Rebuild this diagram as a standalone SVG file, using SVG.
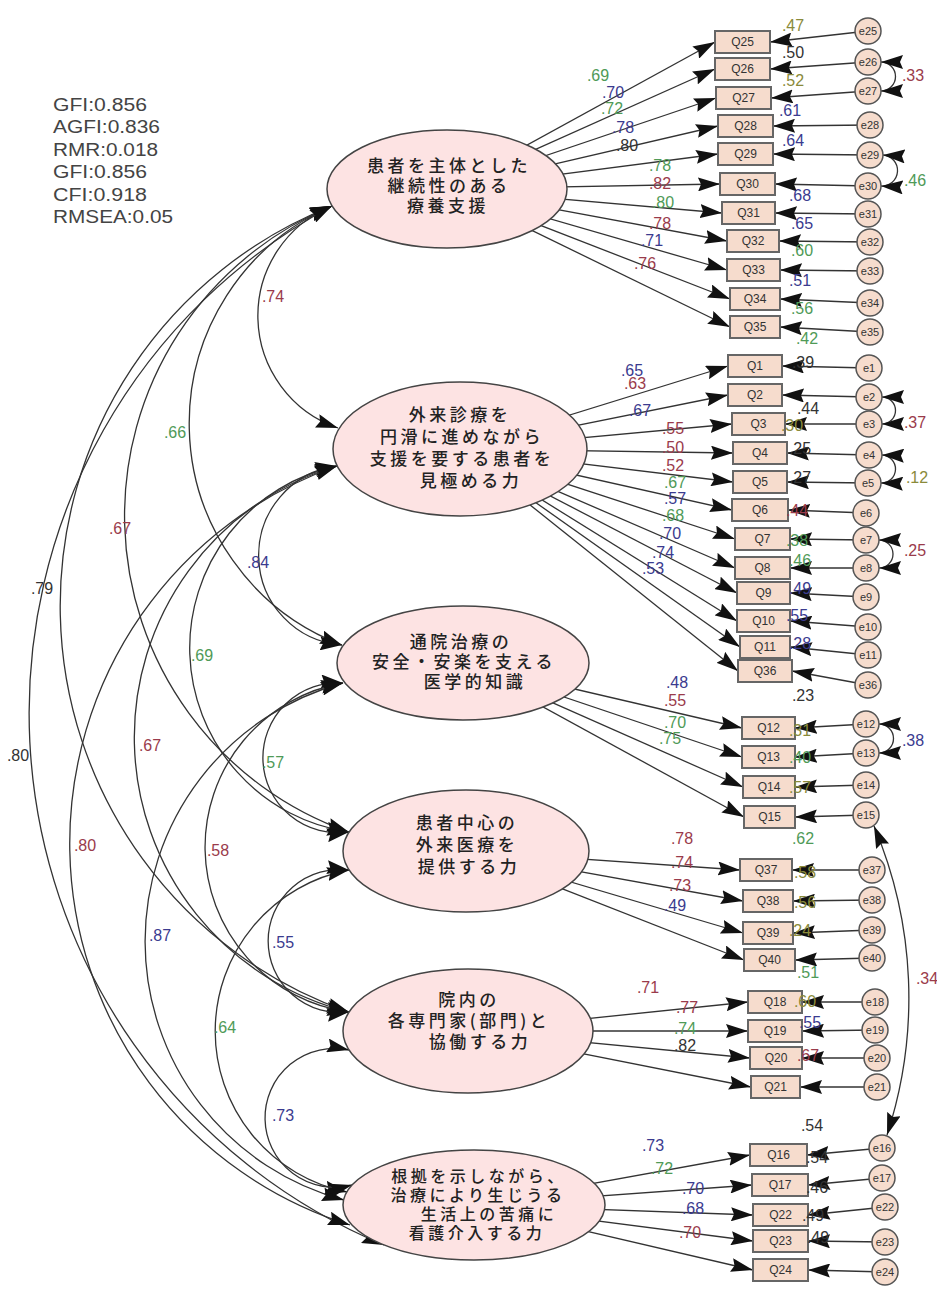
<svg xmlns="http://www.w3.org/2000/svg" width="937" height="1291" viewBox="0 0 937 1291">
<defs>
<marker id="ar" markerUnits="userSpaceOnUse" markerWidth="24" markerHeight="14" refX="22" refY="7" orient="auto"><path d="M0,0 L22,7 L0,14 L3,7 z" fill="#111"/></marker>
<marker id="ar2" markerUnits="userSpaceOnUse" markerWidth="24" markerHeight="14" refX="22" refY="7" orient="auto-start-reverse"><path d="M0,0 L22,7 L0,14 L3,7 z" fill="#111"/></marker>
</defs>
<style>
.ln{stroke:#333;stroke-width:1.3;fill:none}
.box{fill:#f6dccd;stroke:#666;stroke-width:2}
.lat{fill:#fde3e3;stroke:#444;stroke-width:1.5}
.err{fill:#f6dccd;stroke:#555;stroke-width:1.5}
.jp{font-family:"Noto Sans CJK JP",sans-serif;font-size:17px;letter-spacing:3.5px;font-weight:500;fill:#222;text-anchor:middle}
.jp6{font-size:16px;letter-spacing:3.5px}
.q{font-family:"Liberation Sans",sans-serif;font-size:12px;fill:#333;text-anchor:middle}
.et{font-family:"Liberation Sans",sans-serif;font-size:11px;fill:#333;text-anchor:middle}
.v{font-family:"Liberation Sans",sans-serif;font-size:16px;text-anchor:middle}
.fit{font-family:"Liberation Sans",sans-serif;font-size:18px;fill:#444}
.g{fill:#4f9a57}.b{fill:#3b3b8f}.r{fill:#9a3b4b}.k{fill:#333}.o{fill:#8a8a3a}
</style>
<rect width="937" height="1291" fill="#fff"/>

<g id="connectors" class="ln">
<g id="loadings" marker-end="url(#ar)">
<line x1="447" y1="189" x2="715" y2="42"/>
<line x1="447" y1="189" x2="715" y2="69"/>
<line x1="447" y1="189" x2="716" y2="98"/>
<line x1="447" y1="189" x2="718" y2="126"/>
<line x1="447" y1="189" x2="718" y2="154"/>
<line x1="447" y1="189" x2="720" y2="184"/>
<line x1="447" y1="189" x2="722" y2="213"/>
<line x1="447" y1="189" x2="727" y2="241"/>
<line x1="447" y1="189" x2="727" y2="270"/>
<line x1="447" y1="189" x2="730" y2="299"/>
<line x1="447" y1="189" x2="730" y2="327"/>
<line x1="460" y1="449" x2="728" y2="366"/>
<line x1="460" y1="449" x2="728" y2="395"/>
<line x1="460" y1="449" x2="732" y2="424"/>
<line x1="460" y1="449" x2="733" y2="453"/>
<line x1="460" y1="449" x2="733" y2="482"/>
<line x1="460" y1="449" x2="732" y2="510"/>
<line x1="460" y1="449" x2="735" y2="539"/>
<line x1="460" y1="449" x2="735" y2="568"/>
<line x1="460" y1="449" x2="737" y2="593"/>
<line x1="460" y1="449" x2="737" y2="621"/>
<line x1="460" y1="449" x2="740" y2="647"/>
<line x1="460" y1="449" x2="738" y2="671"/>
<line x1="463" y1="663" x2="742" y2="728"/>
<line x1="463" y1="663" x2="742" y2="757"/>
<line x1="463" y1="663" x2="743" y2="787"/>
<line x1="463" y1="663" x2="744" y2="817"/>
<line x1="466" y1="851" x2="740" y2="870"/>
<line x1="466" y1="851" x2="743" y2="901"/>
<line x1="466" y1="851" x2="743" y2="933"/>
<line x1="466" y1="851" x2="744" y2="960"/>
<line x1="468" y1="1031" x2="748" y2="1002"/>
<line x1="468" y1="1031" x2="748" y2="1031"/>
<line x1="468" y1="1031" x2="750" y2="1058"/>
<line x1="468" y1="1031" x2="751" y2="1087"/>
<line x1="474" y1="1205" x2="750" y2="1155"/>
<line x1="474" y1="1205" x2="752" y2="1185"/>
<line x1="474" y1="1205" x2="753" y2="1215"/>
<line x1="474" y1="1205" x2="753" y2="1241"/>
<line x1="474" y1="1205" x2="753" y2="1270"/>
</g>
<g id="error-paths" marker-end="url(#ar)">
<line x1="868" y1="31" x2="770" y2="42"/>
<line x1="868" y1="62" x2="770" y2="69"/>
<line x1="868" y1="91" x2="771" y2="98"/>
<line x1="870" y1="125" x2="773" y2="126"/>
<line x1="870" y1="155" x2="773" y2="154"/>
<line x1="868" y1="186" x2="775" y2="184"/>
<line x1="868" y1="214" x2="775" y2="213"/>
<line x1="870" y1="242" x2="779" y2="241"/>
<line x1="870" y1="271" x2="780" y2="270"/>
<line x1="870" y1="303" x2="780" y2="299"/>
<line x1="870" y1="332" x2="780" y2="327"/>
<line x1="869" y1="368" x2="782" y2="366"/>
<line x1="869" y1="397" x2="782" y2="395"/>
<line x1="869" y1="424" x2="785" y2="424"/>
<line x1="869" y1="455" x2="787" y2="453"/>
<line x1="868" y1="483" x2="787" y2="482"/>
<line x1="866" y1="513" x2="788" y2="510"/>
<line x1="866" y1="540" x2="790" y2="539"/>
<line x1="866" y1="568" x2="790" y2="568"/>
<line x1="866" y1="597" x2="790" y2="593"/>
<line x1="868" y1="627" x2="790" y2="621"/>
<line x1="868" y1="655" x2="790" y2="647"/>
<line x1="868" y1="685" x2="792" y2="671"/>
<line x1="866" y1="724" x2="795" y2="728"/>
<line x1="866" y1="753" x2="795" y2="757"/>
<line x1="866" y1="785" x2="795" y2="787"/>
<line x1="866" y1="815" x2="795" y2="817"/>
<line x1="872" y1="870" x2="792" y2="870"/>
<line x1="872" y1="900" x2="793" y2="901"/>
<line x1="872" y1="930" x2="793" y2="933"/>
<line x1="872" y1="958" x2="795" y2="960"/>
<line x1="875" y1="1002" x2="802" y2="1002"/>
<line x1="875" y1="1030" x2="802" y2="1031"/>
<line x1="877" y1="1058" x2="802" y2="1058"/>
<line x1="877" y1="1087" x2="800" y2="1087"/>
<line x1="882" y1="1148" x2="807" y2="1155"/>
<line x1="882" y1="1178" x2="808" y2="1185"/>
<line x1="885" y1="1207" x2="808" y2="1215"/>
<line x1="885" y1="1242" x2="808" y2="1241"/>
<line x1="885" y1="1272" x2="808" y2="1270"/>
</g>
<g id="covariances" marker-start="url(#ar2)" marker-end="url(#ar2)">
<path d="M332,206 A118.5,118.5 0 0 0 338,428"/>
<path d="M332,206 A237,237 0 0 0 342,645"/>
<path d="M332,206 A335,335 0 0 0 349,832"/>
<path d="M332,206 A430,430 0 0 0 349,1012"/>
<path d="M332,206 A576,576 0 0 0 384,1245"/>
<path d="M337,466 A90,90 0 0 0 342,645"/>
<path d="M337,466 A186,186 0 0 0 349,832"/>
<path d="M337,466 A283,283 0 0 0 349,1012"/>
<path d="M337,466 A400,400 0 0 0 350,1225"/>
<path d="M343,683 A75,75 0 1 0 349,832"/>
<path d="M343,683 A166.5,166.5 0 0 0 349,1012"/>
<path d="M343,683 A267.6,267.6 0 0 0 344,1200"/>
<path d="M349,870 A71.6,71.6 0 1 0 349,1012"/>
<path d="M349,870 A164,164 0 0 0 347,1192"/>
<path d="M349,1050 A69.4,69.4 0 1 0 352,1185"/>
<path d="M881,62 A1,1 0 0 1 881,91"/>
<path d="M883,155 A1,1 0 0 1 881,186"/>
<path d="M882,397 A1,1 0 0 1 882,424"/>
<path d="M882,455 A1,1 0 0 1 881,483"/>
<path d="M879,540 A1,1 0 0 1 879,568"/>
<path d="M879,724 A1,1 0 0 1 879,753"/>
<path d="M874,826 A441,441 0 0 1 887,1135"/>
</g>
</g>

<g id="latents">
<g id="F1"><ellipse class="lat" cx="447" cy="189" rx="120" ry="59"/><text class="jp" x="449" y="172">患者を主体とした</text><text class="jp" x="449" y="192">継続性のある</text><text class="jp" x="448" y="212">療養支援</text></g>
<g id="F2"><ellipse class="lat" cx="460" cy="449" rx="127" ry="67"/><text class="jp" x="460" y="421">外来診療を</text><text class="jp" x="462" y="443">円滑に進めながら</text><text class="jp" x="462" y="465">支援を要する患者を</text><text class="jp" x="471" y="487">見極める力</text></g>
<g id="F3"><ellipse class="lat" cx="463" cy="663" rx="126" ry="57"/><text class="jp" x="461" y="648">通院治療の</text><text class="jp" x="464" y="668">安全・安楽を支える</text><text class="jp" x="475" y="688">医学的知識</text></g>
<g id="F4"><ellipse class="lat" cx="466" cy="851" rx="123" ry="61"/><text class="jp" x="467" y="829">患者中心の</text><text class="jp" x="467" y="851">外来医療を</text><text class="jp" x="469" y="873">提供する力</text></g>
<g id="F5"><ellipse class="lat" cx="468" cy="1031" rx="125" ry="62"/><text class="jp" x="469" y="1006">院内の</text><text class="jp" x="469" y="1027">各専門家(部門)と</text><text class="jp" x="480" y="1048">協働する力</text></g>
<g id="F6"><ellipse class="lat" cx="474" cy="1205" rx="131" ry="55"/><text class="jp jp6" x="479" y="1182">根拠を示しながら、</text><text class="jp jp6" x="478" y="1201">治療により生じうる</text><text class="jp jp6" x="489" y="1220">生活上の苦痛に</text><text class="jp jp6" x="477" y="1239">看護介入する力</text></g>
</g>

<g id="items">
<g id="Q25"><rect class="box" x="715" y="31" width="55" height="22"/><text class="q" x="742.5" y="46">Q25</text></g>
<g id="Q26"><rect class="box" x="715" y="58" width="55" height="22"/><text class="q" x="742.5" y="73">Q26</text></g>
<g id="Q27"><rect class="box" x="716" y="87" width="55" height="22"/><text class="q" x="743.5" y="102" fill="#a33">Q27</text></g>
<g id="Q28"><rect class="box" x="718" y="115" width="55" height="22"/><text class="q" x="745.5" y="130" fill="#339">Q28</text></g>
<g id="Q29"><rect class="box" x="718" y="143" width="55" height="22"/><text class="q" x="745.5" y="158" fill="#339">Q29</text></g>
<g id="Q30"><rect class="box" x="720" y="173" width="55" height="22"/><text class="q" x="747.5" y="188" fill="#a33">Q30</text></g>
<g id="Q31"><rect class="box" x="722" y="202" width="53" height="22"/><text class="q" x="748.5" y="217">Q31</text></g>
<g id="Q32"><rect class="box" x="727" y="230" width="52" height="22"/><text class="q" x="753" y="245">Q32</text></g>
<g id="Q33"><rect class="box" x="727" y="259" width="53" height="22"/><text class="q" x="753.5" y="274">Q33</text></g>
<g id="Q34"><rect class="box" x="730" y="288" width="50" height="22"/><text class="q" x="755" y="303">Q34</text></g>
<g id="Q35"><rect class="box" x="730" y="316" width="50" height="22"/><text class="q" x="755" y="331" fill="#363">Q35</text></g>
<g id="Q1"><rect class="box" x="728" y="355" width="54" height="22"/><text class="q" x="755" y="370">Q1</text></g>
<g id="Q2"><rect class="box" x="728" y="384" width="54" height="22"/><text class="q" x="755" y="399" fill="#663">Q2</text></g>
<g id="Q3"><rect class="box" x="732" y="413" width="53" height="22"/><text class="q" x="758.5" y="428">Q3</text></g>
<g id="Q4"><rect class="box" x="733" y="442" width="54" height="22"/><text class="q" x="760" y="457">Q4</text></g>
<g id="Q5"><rect class="box" x="733" y="471" width="54" height="22"/><text class="q" x="760" y="486">Q5</text></g>
<g id="Q6"><rect class="box" x="732" y="499" width="56" height="22"/><text class="q" x="760" y="514" fill="#a33">Q6</text></g>
<g id="Q7"><rect class="box" x="735" y="528" width="55" height="22"/><text class="q" x="762.5" y="543">Q7</text></g>
<g id="Q8"><rect class="box" x="735" y="557" width="55" height="22"/><text class="q" x="762.5" y="572" fill="#339">Q8</text></g>
<g id="Q9"><rect class="box" x="737" y="582" width="53" height="22"/><text class="q" x="763.5" y="597" fill="#663">Q9</text></g>
<g id="Q10"><rect class="box" x="737" y="610" width="53" height="22"/><text class="q" x="763.5" y="625" fill="#363">Q10</text></g>
<g id="Q11"><rect class="box" x="740" y="636" width="50" height="22"/><text class="q" x="765" y="651">Q11</text></g>
<g id="Q36"><rect class="box" x="738" y="660" width="54" height="22"/><text class="q" x="765" y="675" fill="#a33">Q36</text></g>
<g id="Q12"><rect class="box" x="742" y="717" width="53" height="22"/><text class="q" x="768.5" y="732">Q12</text></g>
<g id="Q13"><rect class="box" x="742" y="746" width="53" height="22"/><text class="q" x="768.5" y="761" fill="#a33">Q13</text></g>
<g id="Q14"><rect class="box" x="743" y="776" width="52" height="22"/><text class="q" x="769" y="791">Q14</text></g>
<g id="Q15"><rect class="box" x="744" y="806" width="51" height="22"/><text class="q" x="769.5" y="821">Q15</text></g>
<g id="Q37"><rect class="box" x="740" y="859" width="52" height="22"/><text class="q" x="766" y="874">Q37</text></g>
<g id="Q38"><rect class="box" x="743" y="890" width="50" height="22"/><text class="q" x="768" y="905" fill="#363">Q38</text></g>
<g id="Q39"><rect class="box" x="743" y="922" width="50" height="22"/><text class="q" x="768" y="937">Q39</text></g>
<g id="Q40"><rect class="box" x="744" y="949" width="51" height="22"/><text class="q" x="769.5" y="964" fill="#339">Q40</text></g>
<g id="Q18"><rect class="box" x="748" y="991" width="54" height="22"/><text class="q" x="775" y="1006">Q18</text></g>
<g id="Q19"><rect class="box" x="748" y="1020" width="54" height="22"/><text class="q" x="775" y="1035" fill="#663">Q19</text></g>
<g id="Q20"><rect class="box" x="750" y="1047" width="52" height="22"/><text class="q" x="776" y="1062" fill="#a33">Q20</text></g>
<g id="Q21"><rect class="box" x="751" y="1076" width="49" height="22"/><text class="q" x="775.5" y="1091">Q21</text></g>
<g id="Q16"><rect class="box" x="750" y="1144" width="57" height="22"/><text class="q" x="778.5" y="1159">Q16</text></g>
<g id="Q17"><rect class="box" x="752" y="1174" width="56" height="22"/><text class="q" x="780" y="1189">Q17</text></g>
<g id="Q22"><rect class="box" x="753" y="1204" width="55" height="22"/><text class="q" x="780.5" y="1219">Q22</text></g>
<g id="Q23"><rect class="box" x="753" y="1230" width="55" height="22"/><text class="q" x="780.5" y="1245">Q23</text></g>
<g id="Q24"><rect class="box" x="753" y="1259" width="55" height="22"/><text class="q" x="780.5" y="1274">Q24</text></g>
</g>

<g id="errors">
<g id="e25"><circle class="err" cx="868" cy="31" r="13"/><text class="et" x="868" y="35">e25</text></g>
<g id="e26"><circle class="err" cx="868" cy="62" r="13"/><text class="et" x="868" y="66">e26</text></g>
<g id="e27"><circle class="err" cx="868" cy="91" r="13"/><text class="et" x="868" y="95">e27</text></g>
<g id="e28"><circle class="err" cx="870" cy="125" r="13"/><text class="et" x="870" y="129">e28</text></g>
<g id="e29"><circle class="err" cx="870" cy="155" r="13"/><text class="et" x="870" y="159">e29</text></g>
<g id="e30"><circle class="err" cx="868" cy="186" r="13"/><text class="et" x="868" y="190">e30</text></g>
<g id="e31"><circle class="err" cx="868" cy="214" r="13"/><text class="et" x="868" y="218">e31</text></g>
<g id="e32"><circle class="err" cx="870" cy="242" r="13"/><text class="et" x="870" y="246">e32</text></g>
<g id="e33"><circle class="err" cx="870" cy="271" r="13"/><text class="et" x="870" y="275">e33</text></g>
<g id="e34"><circle class="err" cx="870" cy="303" r="13"/><text class="et" x="870" y="307">e34</text></g>
<g id="e35"><circle class="err" cx="870" cy="332" r="13"/><text class="et" x="870" y="336">e35</text></g>
<g id="e1"><circle class="err" cx="869" cy="368" r="13"/><text class="et" x="869" y="372">e1</text></g>
<g id="e2"><circle class="err" cx="869" cy="397" r="13"/><text class="et" x="869" y="401">e2</text></g>
<g id="e3"><circle class="err" cx="869" cy="424" r="13"/><text class="et" x="869" y="428">e3</text></g>
<g id="e4"><circle class="err" cx="869" cy="455" r="13"/><text class="et" x="869" y="459">e4</text></g>
<g id="e5"><circle class="err" cx="868" cy="483" r="13"/><text class="et" x="868" y="487">e5</text></g>
<g id="e6"><circle class="err" cx="866" cy="513" r="13"/><text class="et" x="866" y="517">e6</text></g>
<g id="e7"><circle class="err" cx="866" cy="540" r="13"/><text class="et" x="866" y="544">e7</text></g>
<g id="e8"><circle class="err" cx="866" cy="568" r="13"/><text class="et" x="866" y="572">e8</text></g>
<g id="e9"><circle class="err" cx="866" cy="597" r="13"/><text class="et" x="866" y="601">e9</text></g>
<g id="e10"><circle class="err" cx="868" cy="627" r="13"/><text class="et" x="868" y="631">e10</text></g>
<g id="e11"><circle class="err" cx="868" cy="655" r="13"/><text class="et" x="868" y="659">e11</text></g>
<g id="e36"><circle class="err" cx="868" cy="685" r="13"/><text class="et" x="868" y="689">e36</text></g>
<g id="e12"><circle class="err" cx="866" cy="724" r="13"/><text class="et" x="866" y="728">e12</text></g>
<g id="e13"><circle class="err" cx="866" cy="753" r="13"/><text class="et" x="866" y="757">e13</text></g>
<g id="e14"><circle class="err" cx="866" cy="785" r="13"/><text class="et" x="866" y="789">e14</text></g>
<g id="e15"><circle class="err" cx="866" cy="815" r="13"/><text class="et" x="866" y="819">e15</text></g>
<g id="e37"><circle class="err" cx="872" cy="870" r="13"/><text class="et" x="872" y="874">e37</text></g>
<g id="e38"><circle class="err" cx="872" cy="900" r="13"/><text class="et" x="872" y="904">e38</text></g>
<g id="e39"><circle class="err" cx="872" cy="930" r="13"/><text class="et" x="872" y="934">e39</text></g>
<g id="e40"><circle class="err" cx="872" cy="958" r="13"/><text class="et" x="872" y="962">e40</text></g>
<g id="e18"><circle class="err" cx="875" cy="1002" r="13"/><text class="et" x="875" y="1006">e18</text></g>
<g id="e19"><circle class="err" cx="875" cy="1030" r="13"/><text class="et" x="875" y="1034">e19</text></g>
<g id="e20"><circle class="err" cx="877" cy="1058" r="13"/><text class="et" x="877" y="1062">e20</text></g>
<g id="e21"><circle class="err" cx="877" cy="1087" r="13"/><text class="et" x="877" y="1091">e21</text></g>
<g id="e16"><circle class="err" cx="882" cy="1148" r="13"/><text class="et" x="882" y="1152">e16</text></g>
<g id="e17"><circle class="err" cx="882" cy="1178" r="13"/><text class="et" x="882" y="1182">e17</text></g>
<g id="e22"><circle class="err" cx="885" cy="1207" r="13"/><text class="et" x="885" y="1211">e22</text></g>
<g id="e23"><circle class="err" cx="885" cy="1242" r="13"/><text class="et" x="885" y="1246">e23</text></g>
<g id="e24"><circle class="err" cx="885" cy="1272" r="13"/><text class="et" x="885" y="1276">e24</text></g>
</g>

<g id="fit-indices" class="fit">
<text x="53" y="111" textLength="94" lengthAdjust="spacingAndGlyphs">GFI:0.856</text>
<text x="53" y="133" textLength="107" lengthAdjust="spacingAndGlyphs">AGFI:0.836</text>
<text x="53" y="156" textLength="105" lengthAdjust="spacingAndGlyphs">RMR:0.018</text>
<text x="53" y="178" textLength="94" lengthAdjust="spacingAndGlyphs">GFI:0.856</text>
<text x="53" y="201" textLength="94" lengthAdjust="spacingAndGlyphs">CFI:0.918</text>
<text x="53" y="223" textLength="120" lengthAdjust="spacingAndGlyphs">RMSEA:0.05</text>
</g>

<g id="values" class="v">
<text class="g" x="598" y="81">.69</text>
<text class="b" x="613" y="98">.70</text>
<text class="g" x="612" y="114">.72</text>
<text class="b" x="623" y="133">.78</text>
<text class="k" x="627" y="151">.80</text>
<text class="g" x="660" y="171">.78</text>
<text class="r" x="660" y="189">.82</text>
<text class="g" x="663" y="208">.80</text>
<text class="r" x="660" y="229">.78</text>
<text class="b" x="652" y="246">.71</text>
<text class="r" x="645" y="269">.76</text>
<text class="o" x="793" y="31">.47</text>
<text class="k" x="793" y="58">.50</text>
<text class="o" x="793" y="86">.52</text>
<text class="b" x="790" y="116">.61</text>
<text class="b" x="793" y="146">.64</text>
<text class="b" x="800" y="201">.68</text>
<text class="b" x="802" y="229">.65</text>
<text class="g" x="802" y="256">.60</text>
<text class="b" x="800" y="286">.51</text>
<text class="g" x="802" y="314">.56</text>
<text class="g" x="807" y="344">.42</text>
<text class="r" x="913" y="81">.33</text>
<text class="g" x="915" y="186">.46</text>

<text class="b" x="632" y="376">.65</text>
<text class="r" x="635" y="389">.63</text>
<text class="b" x="640" y="416">.67</text>
<text class="r" x="673" y="434">.55</text>
<text class="r" x="673" y="453">.50</text>
<text class="r" x="673" y="471">.52</text>
<text class="g" x="675" y="488">.67</text>
<text class="b" x="675" y="504">.57</text>
<text class="g" x="673" y="521">.68</text>
<text class="b" x="670" y="539">.70</text>
<text class="b" x="663" y="558">.74</text>
<text class="b" x="653" y="574">.53</text>
<text class="k" x="803" y="368">.39</text>
<text class="k" x="808" y="414">.44</text>
<text class="o" x="792" y="431">.30</text>
<text class="k" x="800" y="454">.25</text>
<text class="k" x="800" y="483">.27</text>
<text class="r" x="797" y="516">.44</text>
<text class="g" x="797" y="546">.38</text>
<text class="g" x="800" y="566">.46</text>
<text class="b" x="800" y="594">.49</text>
<text class="b" x="797" y="621">.55</text>
<text class="b" x="800" y="649">.28</text>
<text class="k" x="803" y="701">.23</text>
<text class="r" x="915" y="428">.37</text>
<text class="o" x="917" y="483">.12</text>
<text class="r" x="915" y="556">.25</text>

<text class="b" x="677" y="688">.48</text>
<text class="r" x="675" y="706">.55</text>
<text class="g" x="675" y="728">.70</text>
<text class="g" x="670" y="744">.75</text>
<text class="o" x="800" y="736">.31</text>
<text class="g" x="800" y="763">.40</text>
<text class="o" x="800" y="793">.57</text>
<text class="g" x="803" y="844">.62</text>
<text class="b" x="913" y="746">.38</text>

<text class="r" x="682" y="844">.78</text>
<text class="r" x="682" y="868">.74</text>
<text class="r" x="680" y="891">.73</text>
<text class="b" x="675" y="911">.49</text>
<text class="o" x="805" y="878">.58</text>
<text class="o" x="805" y="908">.56</text>
<text class="o" x="800" y="936">.24</text>
<text class="g" x="808" y="978">.51</text>
<text class="r" x="927" y="984">.34</text>

<text class="r" x="648" y="993">.71</text>
<text class="r" x="687" y="1013">.77</text>
<text class="g" x="685" y="1034">.74</text>
<text class="k" x="685" y="1051">.82</text>
<text class="o" x="805" y="1007">.60</text>
<text class="b" x="810" y="1028">.55</text>
<text class="r" x="808" y="1061">.67</text>

<text class="b" x="653" y="1151">.73</text>
<text class="g" x="662" y="1174">.72</text>
<text class="b" x="693" y="1194">.70</text>
<text class="b" x="693" y="1214">.68</text>
<text class="r" x="690" y="1238">.70</text>
<text class="k" x="812" y="1131">.54</text>
<text class="k" x="817" y="1163">.54</text>
<text class="k" x="817" y="1193">.46</text>
<text class="k" x="813" y="1221">.49</text>
<text class="k" x="818" y="1243">.49</text>

<text class="r" x="273" y="302">.74</text>
<text class="g" x="175" y="438">.66</text>
<text class="r" x="120" y="534">.67</text>
<text class="k" x="42" y="594">.79</text>
<text class="k" x="18" y="761">.80</text>
<text class="b" x="258" y="568">.84</text>
<text class="g" x="202" y="661">.69</text>
<text class="r" x="150" y="751">.67</text>
<text class="r" x="85" y="851">.80</text>
<text class="g" x="273" y="768">.57</text>
<text class="r" x="218" y="856">.58</text>
<text class="b" x="160" y="941">.87</text>
<text class="b" x="283" y="948">.55</text>
<text class="g" x="225" y="1033">.64</text>
<text class="b" x="283" y="1121">.73</text>
</g>
</svg>
